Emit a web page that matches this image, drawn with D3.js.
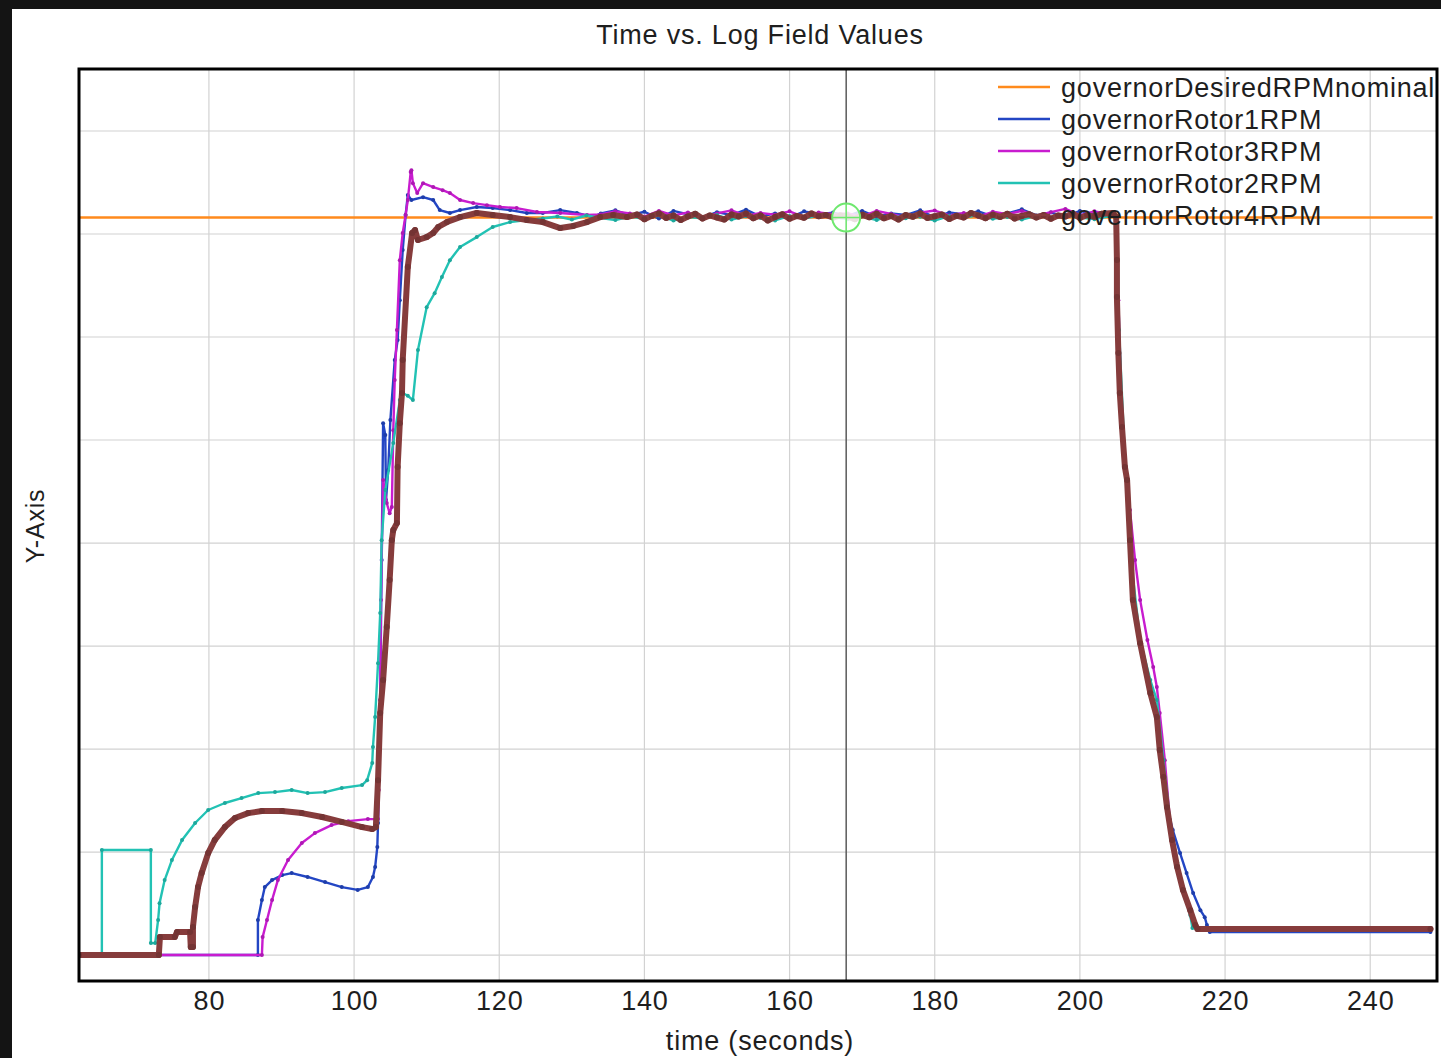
<!DOCTYPE html>
<meta charset="utf-8">
<style>
    html,
    body {
        margin: 0;
        padding: 0;
        background: #141414;
    }
    svg {
        display: block;
        font-family: "Liberation Sans", Arial, sans-serif;
    }
    svg text {
        letter-spacing: 0.8px;
    }
</style>
<svg id="chart" width="1441" height="1058"></svg>
<script src="https://d3js.org/d3.v7.js"></script>
<script>
    // values: [time (s), rpm]
    const xTicks = [80, 100, 120, 140, 160, 180, 200, 220, 240];
    const yGrid = [0, 500, 1000, 1500, 2000, 2500, 3000, 3500, 4000];
    const desiredRPM = 3580;
    const cursorTime = 167.8;

    const rotor1 = [
        [62.1, 0], [86.75, 0], [86.75, 170], [87.3, 267], [87.7, 330], [88.7, 364], [90.1, 388], [91.4, 398],
        [93.6, 379], [96.0, 354], [98.3, 330], [100.5, 316], [101.9, 330], [102.6, 379], [102.9, 427],
        [103.2, 524], [103.3, 641], [103.6, 1238], [103.8, 1917], [104.0, 2582], [104.3, 2524], [104.4, 2209],
        [104.7, 2354], [105.0, 2597], [105.6, 2888], [106.0, 2985], [106.3, 3179], [106.7, 3422], [107.1, 3592],
        [107.4, 3689], [107.9, 3665], [109.5, 3679], [110.9, 3665], [111.8, 3616], [113.2, 3602], [114.6, 3616],
        [116.9, 3631], [119.1, 3626], [121.5, 3616], [123.8, 3602], [126.0, 3602], [128.4, 3616], [130.7, 3602],
        [132.9, 3582], [134, 3600], [136, 3615], [138, 3590], [140, 3608], [142, 3575], [144, 3612], [146, 3595],
        [148, 3580], [150, 3606], [152, 3592], [154, 3618], [156, 3585], [158, 3600], [160, 3578], [162, 3610],
        [164, 3596], [166, 3604], [168, 3588], [170, 3612], [172, 3583], [174, 3600], [176, 3592], [178, 3615],
        [180, 3580], [182, 3605], [184, 3595], [186, 3610], [188, 3586], [190, 3600], [192, 3620], [194, 3590],
        [196, 3605], [198, 3582], [200, 3612], [202, 3596], [204, 3600], [205.0, 3582], [205.1, 3374],
        [205.3, 2922], [205.5, 2728], [205.8, 2563], [206.2, 2369], [206.5, 2306], [206.9, 2014], [207.3, 1723],
        [208.3, 1514], [209.7, 1272], [210.6, 1155], [211.0, 995], [211.5, 864], [212.0, 718], [212.8, 607],
        [213.8, 495], [214.7, 398], [215.6, 301], [216.6, 218], [217.2, 184], [217.5, 146], [217.9, 112],
        [248.3, 112]
    ];

    const rotor3 = [
        [62.1, 0], [87.3, 0], [87.4, 87], [88.0, 170], [88.7, 267], [89.5, 364], [90.9, 461], [92.8, 544],
        [94.6, 592], [96.9, 631], [99.2, 650], [101.9, 660], [103.3, 660], [103.4, 801], [103.6, 1238],
        [103.7, 1723], [104.0, 2306], [104.5, 2194], [104.9, 2145], [105.2, 2175], [105.4, 2548], [105.6, 2791],
        [105.9, 3034], [106.3, 3373], [106.7, 3505], [107.1, 3592], [107.4, 3665], [107.8, 3801], [107.9, 3810],
        [108.1, 3747], [108.7, 3699], [109.5, 3747], [110.9, 3728], [112.2, 3713], [113.2, 3699], [114.6, 3665],
        [116.4, 3650], [118.3, 3640], [120.1, 3631], [122.4, 3626], [125.2, 3607], [128.4, 3602], [132.1, 3592],
        [134, 3595], [136, 3610], [138, 3600], [140, 3585], [142, 3612], [144, 3590], [146, 3605], [148, 3578],
        [150, 3600], [152, 3615], [154, 3588], [156, 3602], [158, 3594], [160, 3610], [162, 3582], [164, 3605],
        [166, 3596], [168, 3600], [170, 3586], [172, 3612], [174, 3597], [176, 3580], [178, 3604], [180, 3614],
        [182, 3590], [184, 3602], [186, 3584], [188, 3608], [190, 3596], [192, 3612], [194, 3588], [196, 3606],
        [198, 3622], [200, 3592], [202, 3610], [204, 3598], [205.1, 3582], [205.3, 3179], [205.8, 2597],
        [206.5, 2306], [206.9, 2160], [207.6, 1917], [208.3, 1723], [209.3, 1529], [210.1, 1398], [210.6, 1301],
        [211.0, 1175], [211.7, 946], [212.4, 655], [213.4, 427], [214.2, 316], [215.2, 218], [216.1, 136],
        [248.3, 126]
    ];

    const rotor2 = [
        [62.1, 0], [65.25, 0], [65.25, 510], [72.0, 510], [72.0, 58], [72.6, 58], [73.0, 170], [73.2, 252],
        [73.9, 364], [74.9, 461], [76.3, 558], [78.1, 641], [79.9, 704], [82.2, 738], [84.5, 762], [86.8, 786],
        [89.1, 791], [91.4, 801], [93.6, 786], [96.0, 791], [98.3, 811], [101.1, 825], [101.8, 849], [102.5, 932],
        [102.6, 1010], [102.9, 1155], [103.3, 1417], [103.6, 1660], [103.8, 2014], [104.3, 2257], [105.4, 2485],
        [106.3, 2694], [106.7, 2728], [107.4, 2715], [108.1, 2694], [108.8, 2937], [110.0, 3145], [111.1, 3213],
        [112.1, 3291], [113.2, 3373], [114.6, 3437], [116.9, 3485], [119.1, 3534], [121.5, 3558], [123.8, 3568],
        [126, 3575], [128, 3585], [130, 3570], [132, 3590], [134, 3578], [136, 3568], [138, 3585], [140, 3574],
        [142, 3590], [144, 3565], [146, 3582], [148, 3576], [150, 3592], [152, 3570], [154, 3586], [156, 3578],
        [158, 3566], [160, 3588], [162, 3575], [164, 3590], [166, 3580], [168, 3572], [170, 3585], [172, 3568],
        [174, 3590], [176, 3577], [178, 3584], [180, 3565], [182, 3588], [184, 3579], [186, 3592], [188, 3574],
        [190, 3583], [192, 3570], [194, 3588], [196, 3576], [198, 3590], [200, 3580], [202, 3572], [204, 3586],
        [205.1, 3582], [205.4, 3034], [206.2, 2403], [207.2, 1869], [208.3, 1529], [209.7, 1335], [210.6, 1238],
        [211.5, 946], [212.4, 655], [213.4, 451], [214.5, 291], [215.2, 194], [215.5, 131], [248.3, 126]
    ];

    const rotor4 = [
        [62.1, 0], [73.1, 0], [73.25, 87], [75.3, 87], [75.6, 112], [77.4, 112], [77.5, 39], [77.8, 39],
        [77.8, 136], [78.1, 233], [78.5, 330], [79.0, 398], [79.9, 495], [80.8, 558], [82.2, 621], [83.6, 665],
        [85.4, 689], [87.3, 699], [90.1, 699], [92.8, 689], [95.6, 670], [98.3, 646], [101.1, 621], [102.5, 612],
        [103.0, 621], [103.3, 849], [103.6, 1175], [104.0, 1335], [104.5, 1592], [104.9, 1820], [105.2, 2014],
        [105.4, 2063], [105.9, 2097], [106.0, 2369], [106.3, 2582], [106.6, 2728], [106.7, 2888], [107.4, 3340],
        [108.0, 3505], [108.4, 3519], [108.8, 3471], [110.0, 3485], [110.9, 3505], [111.6, 3534], [112.8, 3558],
        [114.6, 3582], [116.9, 3602], [119.1, 3592], [121.5, 3582], [123.8, 3568], [126.0, 3558], [128.4, 3529],
        [130.2, 3539], [132.1, 3558], [133.9, 3582], [135.7, 3592], [137.6, 3582],
        [139, 3595], [140, 3572], [141, 3588], [142, 3600], [143, 3578], [144, 3590], [145, 3568], [146, 3585],
        [147, 3598], [148, 3575], [149, 3590], [150, 3580], [151, 3570], [152, 3595], [153, 3585], [154, 3600],
        [155, 3577], [156, 3590], [157, 3566], [158, 3582], [159, 3596], [160, 3574], [161, 3588], [162, 3579],
        [163, 3600], [164, 3586], [165, 3592], [166, 3580], [167, 3590], [168, 3585], [169, 3572], [170, 3594],
        [171, 3581], [172, 3598], [173, 3576], [174, 3588], [175, 3570], [176, 3592], [177, 3584], [178, 3600],
        [179, 3578], [180, 3586], [181, 3595], [182, 3573], [183, 3589], [184, 3580], [185, 3602], [186, 3590],
        [187, 3577], [188, 3594], [189, 3583], [190, 3598], [191, 3575], [192, 3588], [193, 3596], [194, 3580],
        [195, 3592], [196, 3574], [197, 3590], [198, 3585], [199, 3600], [200, 3578], [201, 3592], [202, 3584],
        [203, 3598], [204.6, 3602], [205.0, 3582], [205.1, 3374], [205.1, 3194], [205.3, 2922], [205.5, 2728],
        [205.8, 2563], [206.2, 2369], [206.5, 2306], [206.9, 2014], [207.3, 1723], [208.3, 1514], [209.7, 1272],
        [210.6, 1155], [211.0, 995], [211.5, 864], [212.0, 718], [212.7, 558], [213.4, 427], [214.2, 316],
        [215.2, 218], [215.9, 146], [216.2, 126], [248.3, 126]
    ];

    const seriesNames = ["governorDesiredRPMnominal", "governorRotor1RPM", "governorRotor3RPM",
        "governorRotor2RPM", "governorRotor4RPM"];
    const seriesColors = ["#ff8a1c", "#2346c4", "#c81ccf", "#22c2b4", "#863c3c"];

    let svg = d3.select("#chart");
    let width = 1441,
        height = 1058;
    let margin = {left: 79, top: 69, right: 1437, bottom: 981};

    // white page behind the dark strip on top / left
    svg.append("rect")
        .attr("x", 12).attr("y", 9)
        .attr("width", width - 12).attr("height", height - 9)
        .attr("fill", "#fff");

    let x = d3.scaleLinear()
        .domain([62.1, 249.2])
        .range([margin.left, margin.right]);
    let y = d3.scaleLinear()
        .domain([-126, 4301])
        .range([margin.bottom, margin.top]);

    svg.append("text")
        .attr("x", 760).attr("y", 44)
        .attr("text-anchor", "middle")
        .style("font-size", "27px")
        .attr("fill", "#1e1e1e")
        .text("Time vs. Log Field Values");

    let plot = svg.append("g");

    // grid
    plot.selectAll(".vgrid")
        .data(xTicks)
        .join("line")
        .attr("x1", d => x(d)).attr("x2", d => x(d))
        .attr("y1", margin.top).attr("y2", margin.bottom)
        .attr("stroke", "#d2d2d2").attr("stroke-width", 1.2);
    plot.selectAll(".hgrid")
        .data(yGrid)
        .join("line")
        .attr("x1", margin.left).attr("x2", margin.right)
        .attr("y1", d => y(d)).attr("y2", d => y(d))
        .attr("stroke", "#d2d2d2").attr("stroke-width", 1.2);

    // x axis labels
    let xAxis = d3.axisBottom(x).tickValues(xTicks).tickSize(0).tickPadding(10);
    svg.append("g")
        .attr("transform", `translate(0,${margin.bottom})`)
        .call(xAxis)
        .call(g => g.select(".domain").remove())
        .call(g => g.selectAll("text")
            .style("font-size", "27px")
            .style("font-family", "'Liberation Sans', Arial, sans-serif")
            .attr("fill", "#1e1e1e"));

    svg.append("text")
        .attr("x", 760).attr("y", 1050)
        .attr("text-anchor", "middle")
        .style("font-size", "27px")
        .attr("fill", "#1e1e1e")
        .text("time (seconds)");

    svg.append("text")
        .attr("transform", "translate(44,526) rotate(-90)")
        .attr("text-anchor", "middle")
        .style("font-size", "25px")
        .attr("fill", "#1e1e1e")
        .text("Y-Axis");

    svg.append("clipPath").attr("id", "clip")
        .append("rect")
        .attr("x", margin.left).attr("y", margin.top)
        .attr("width", margin.right - margin.left)
        .attr("height", margin.bottom - margin.top);

    let lines = svg.append("g").attr("clip-path", "url(#clip)");

    let line = d3.line()
        .x(d => x(d[0]))
        .y(d => y(d[1]));

    // nominal set point
    lines.append("line")
        .attr("x1", x(62.1)).attr("x2", x(248.6))
        .attr("y1", y(desiredRPM)).attr("y2", y(desiredRPM))
        .attr("stroke", seriesColors[0]).attr("stroke-width", 2.5);

    let series = [
        {data: rotor1, color: seriesColors[1], w: 2.4, r: 2},
        {data: rotor3, color: seriesColors[2], w: 2.4, r: 2},
        {data: rotor2, color: seriesColors[3], w: 2.4, r: 2},
        {data: rotor4, color: seriesColors[4], w: 6, r: 3}
    ];

    series.forEach(s => {
        lines.append("path")
            .datum(s.data)
            .attr("d", line)
            .attr("fill", "none")
            .attr("stroke", s.color)
            .attr("stroke-width", s.w)
            .attr("stroke-linejoin", "round")
            .attr("stroke-linecap", "round");
        lines.selectAll(null)
            .data(s.data)
            .join("circle")
            .attr("cx", d => x(d[0]))
            .attr("cy", d => y(d[1]))
            .attr("r", s.r)
            .attr("fill", d3.color(s.color).darker(0.4));
    });

    // cursor
    let cx = x(cursorTime),
        cy = y(desiredRPM);
    svg.append("line")
        .attr("x1", cx).attr("x2", cx)
        .attr("y1", margin.top).attr("y2", margin.bottom)
        .attr("stroke", "#5a5a5a").attr("stroke-width", 1.5);
    svg.append("circle")
        .attr("cx", cx).attr("cy", cy).attr("r", 14)
        .attr("fill", "#fff").attr("fill-opacity", 0.85)
        .attr("stroke", "#6ee86e").attr("stroke-width", 2);
    svg.append("line")
        .attr("x1", cx - 14).attr("x2", cx + 14)
        .attr("y1", cy).attr("y2", cy)
        .attr("stroke", "#6ee86e").attr("stroke-width", 1.5);
    svg.append("line")
        .attr("x1", cx).attr("x2", cx)
        .attr("y1", cy - 14).attr("y2", cy + 14)
        .attr("stroke", "#6ee86e").attr("stroke-width", 1.5);

    // frame
    svg.append("rect")
        .attr("x", margin.left).attr("y", margin.top)
        .attr("width", margin.right - margin.left)
        .attr("height", margin.bottom - margin.top)
        .attr("fill", "none")
        .attr("stroke", "#000").attr("stroke-width", 3);

    // legend
    let legend = svg.append("g").attr("transform", "translate(998,87)");
    let item = legend.selectAll("g")
        .data(seriesNames)
        .join("g")
        .attr("transform", (d, i) => `translate(0,${i * 32})`);
    item.append("line")
        .attr("x1", 0).attr("x2", 52)
        .attr("stroke", (d, i) => seriesColors[i])
        .attr("stroke-width", 2.5);
    item.append("text")
        .attr("x", 63).attr("y", 10)
        .style("font-size", "27px")
        .attr("fill", "#1e1e1e")
        .text(d => d);
</script>
